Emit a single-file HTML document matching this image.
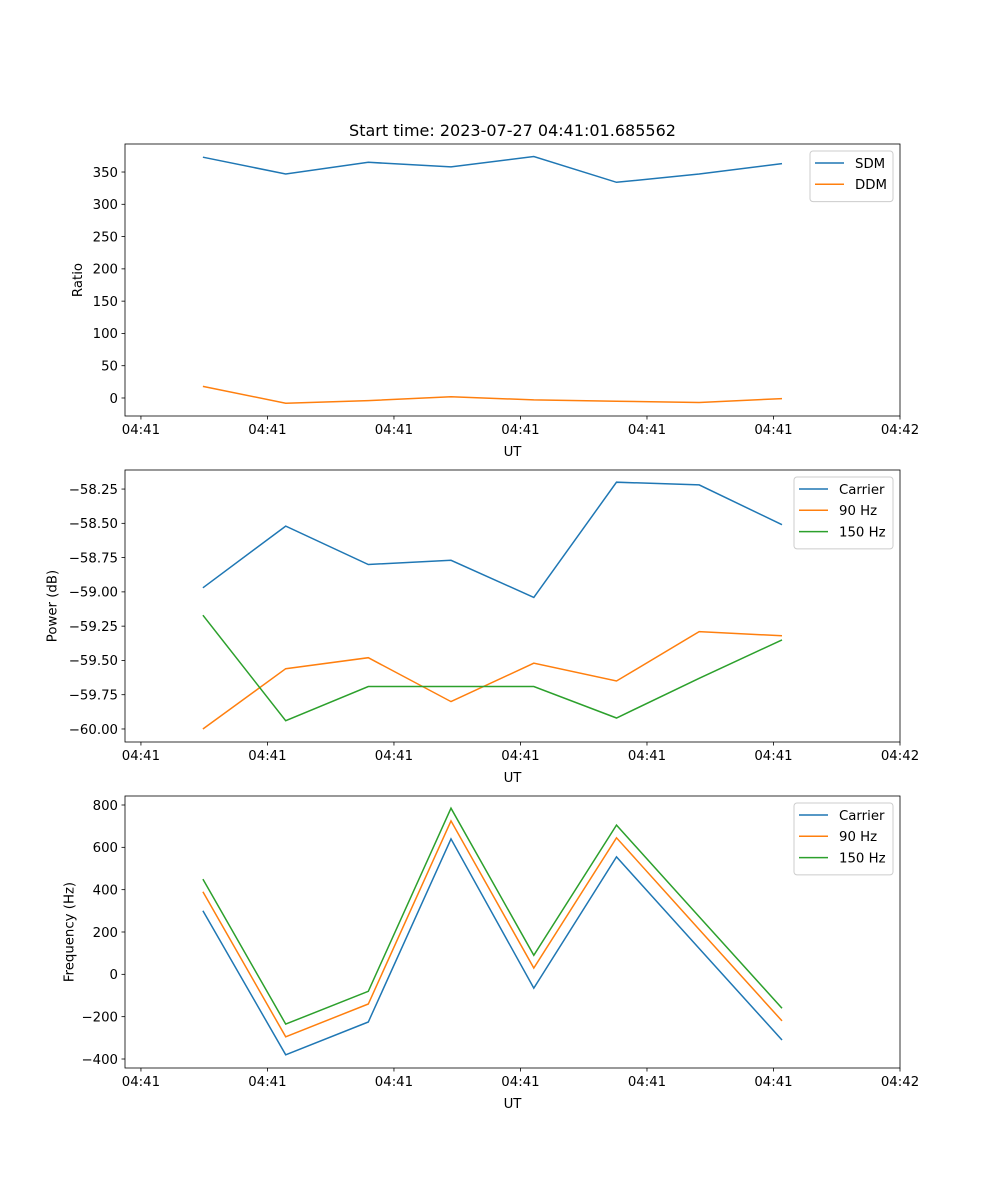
<!DOCTYPE html>
<html><head><meta charset="utf-8">
<style>
html,body{margin:0;padding:0;background:#fff;}
svg{display:block;font-family:"DejaVu Sans","Liberation Sans",sans-serif;}
</style></head>
<body>
<svg id="fig" width="1000" height="1200" viewBox="0 0 1000 1200"></svg>
<script>
// ---- data ----
const times = [0.49, 1.144, 1.797, 2.451, 3.105, 3.759, 4.413, 5.067];
const xTickVals = [0, 1, 2, 3, 4, 5, 6];
const xTickLabels = ["04:41","04:41","04:41","04:41","04:41","04:41","04:42"];
const sdm = [373, 347, 365, 358, 374, 334, 347, 363];
const ddm = [18, -8, -4, 2, -3, -5, -7, -1];
const powCarrier = [-58.97, -58.52, -58.80, -58.77, -59.04, -58.20, -58.22, -58.51];
const pow90 = [-60.0, -59.56, -59.48, -59.80, -59.52, -59.65, -59.29, -59.32];
const pow150 = [-59.17, -59.94, -59.69, -59.69, -59.69, -59.92, -59.63, -59.35];
const frqCarrier = [300, -380, -225, 640, -65, 555, 122, -310];
const frq90 = [390, -295, -140, 725, 30, 645, 212, -220];
const frq150 = [450, -235, -80, 785, 90, 705, 272, -160];
const yTicks1 = [0, 50, 100, 150, 200, 250, 300, 350];
const yTicks2 = [-60.0, -59.75, -59.5, -59.25, -59.0, -58.75, -58.5, -58.25];
const yTicks3 = [-400, -200, 0, 200, 400, 600, 800];

const NS = "http://www.w3.org/2000/svg";
const fig = document.getElementById('fig');
const X0 = 125, X1 = 900;
const xmin = -0.126, xmax = 6.0;
const C = ["#1f77b4", "#ff7f0e", "#2ca02c"];
function mk(tag, attrs, parent) {
  const e = document.createElementNS(NS, tag);
  for (const k in attrs) e.setAttribute(k, attrs[k]);
  (parent || fig).appendChild(e);
  return e;
}
function xs(v) { return X0 + (v - xmin) / (xmax - xmin) * (X1 - X0); }

function panel(name, top, bot, ymin, ymax, yticks, fmt, ylabel, series, labels, legendW) {
  const g = mk('g', {});
  
  
  const ys = v => bot - (v - ymin) / (ymax - ymin) * (bot - top);
  // series
  series.forEach((s, i) => {
    const pts = s.map((v, j) => xs(times[j]).toFixed(1) + ',' + ys(v).toFixed(1)).join(' ');
    const pl = mk('polyline', {points: pts, fill: 'none', stroke: C[i], 'stroke-width': 1.5}, g);
    
    
  });
  // frame
  const fr = mk('rect', {x: X0, y: top, width: X1 - X0, height: bot - top, fill: 'none', stroke: '#000', 'stroke-width': 0.8}, g);
  
  
  // x ticks
  xTickVals.forEach((v, i) => {
    const x = xs(v);
    mk('line', {x1: x, x2: x, y1: bot, y2: bot + 3.5, stroke: '#000', 'stroke-width': 0.8}, g);
    const t = mk('text', {x: x, y: bot + 18, 'font-size': 13.3, 'text-anchor': 'middle', fill: '#000'}, g);
    t.textContent = xTickLabels[i];
    
    
  });
  const xl = mk('text', {x: (X0 + X1) / 2, y: bot + 40, 'font-size': 13.3, 'text-anchor': 'middle'}, g);
  xl.textContent = 'UT';
  
  
  // y ticks
  yticks.forEach(v => {
    const y = ys(v);
    mk('line', {x1: X0 - 3.5, x2: X0, y1: y, y2: y, stroke: '#000', 'stroke-width': 0.8}, g);
    const t = mk('text', {x: X0 - 7, y: y + 4.8, 'font-size': 13.3, 'text-anchor': 'end'}, g);
    t.textContent = fmt(v);
    
    
  });
  // y label
  let maxw = 0; yticks.forEach(v => maxw = Math.max(maxw, fmt(v).length));
  const lx = X0 - 10 - maxw * 8.4 - 8;
  const yl = mk('text', {x: lx, y: (top + bot) / 2, 'font-size': 13.3, 'text-anchor': 'middle', transform: `rotate(-90 ${lx} ${(top + bot) / 2})`}, g);
  yl.textContent = ylabel;
  
  
  // legend
  const lg = mk('g', {}, g);
  
  
  const lw = legendW, lh = 8 + labels.length * 21.3;
  const lxp = X1 - 7 - lw, lyp = top + 7;
  mk('rect', {x: lxp, y: lyp, width: lw, height: lh, rx: 3, fill: '#fff', 'fill-opacity': 0.8, stroke: '#ccc', 'stroke-width': 1}, lg);
  labels.forEach((l, i) => {
    const yy = lyp + 12 + i * 21.3;
    mk('line', {x1: lxp + 5, x2: lxp + 34, y1: yy, y2: yy, stroke: C[i], 'stroke-width': 1.5}, lg);
    const t = mk('text', {x: lxp + 45, y: yy + 4.8, 'font-size': 13.3}, lg);
    t.textContent = l;
    
    
  });
  return g;
}

const minus = s => s.replace('-', '\u2212');
const title = mk('text', {x: 512.5, y: 136, 'font-size': 16, 'text-anchor': 'middle'});
title.textContent = 'Start time: 2023-07-27 04:41:01.685562';



panel('ratio-panel', 144, 416, -27.9, 393.4, yTicks1, v => minus(String(v)), 'Ratio', [sdm, ddm], ['SDM', 'DDM'], 83);
panel('power-panel', 470, 742, -60.095, -58.111, yTicks2, v => minus(v.toFixed(2)), 'Power (dB)', [powCarrier, pow90, pow150], ['Carrier', '90 Hz', '150 Hz'], 99);
panel('frequency-panel', 796, 1068, -442.5, 842.5, yTicks3, v => minus(String(v)), 'Frequency (Hz)', [frqCarrier, frq90, frq150], ['Carrier', '90 Hz', '150 Hz'], 99);
</script>
</body></html>
